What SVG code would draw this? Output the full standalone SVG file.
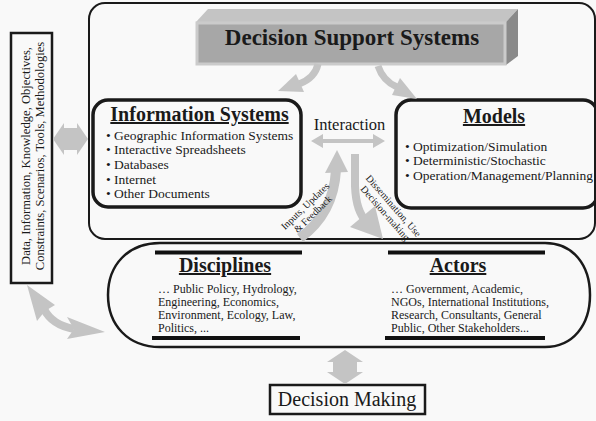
<svg xmlns="http://www.w3.org/2000/svg" width="596" height="421" viewBox="0 0 596 421">
<style>
.bg{fill:#f9f9f9}
.t{font-family:"Liberation Serif","Times New Roman",serif;fill:#1a1a1a}
.hd{font-weight:bold;text-decoration:underline}
.box{fill:none;stroke:#1a1a1a}
.ar{fill:#c4c4c4}
.sh{fill:none;stroke:#c4c4c4}
.bar{stroke:#111;stroke-width:4}
</style>
<rect class="bg" x="0" y="0" width="596" height="421"/>

<g id="outer">
<rect class="box" x="89" y="3" width="506" height="236" rx="16" stroke-width="2"/>
</g>

<g id="dss">
<polygon points="196,22 208,9 518,9 506,22" fill="#c4c4c4"/>
<polygon points="506,22 518,9 518,56 506,65" fill="#8a8a8a"/>
<rect x="197" y="23" width="308" height="41" fill="#a7a7a7" stroke="#cbcbcb" stroke-width="3"/>
<text class="t" x="352" y="45" font-size="23" font-weight="bold" text-anchor="middle">Decision Support Systems</text>
</g>

<g id="infosys">
<rect class="box" x="93" y="100" width="208" height="107" rx="15" stroke-width="3.5"/>
<text class="t hd" x="199.5" y="121" font-size="20" text-anchor="middle">Information Systems</text>
<text class="t" font-size="13.5">
<tspan x="106" y="139.5">• Geographic Information Systems</tspan>
<tspan x="106" y="154.2">• Interactive Spreadsheets</tspan>
<tspan x="106" y="168.9">• Databases</tspan>
<tspan x="106" y="183.6">• Internet</tspan>
<tspan x="106" y="198.3">• Other Documents</tspan>
</text>
</g>

<g id="models">
<rect class="box" x="396" y="100" width="202" height="108" rx="15" stroke-width="3.5"/>
<text class="t hd" x="494" y="123" font-size="20" text-anchor="middle">Models</text>
<text class="t" font-size="13.5">
<tspan x="405" y="150.5">• Optimization/Simulation</tspan>
<tspan x="405" y="165.2">• Deterministic/Stochastic</tspan>
<tspan x="405" y="180">• Operation/Management/Planning</tspan>
</text>
</g>

<g id="interaction">
<text class="t" x="349.5" y="130" font-size="16.5" text-anchor="middle">Interaction</text>
</g>

<g id="left-box">
<rect class="box" x="11" y="33" width="41" height="250" stroke-width="2.5"/>
<text class="t" transform="translate(29.5,156) rotate(-90)" font-size="12.6" text-anchor="middle">Data, Information, Knowledge, Objectives,</text>
<text class="t" transform="translate(43.5,156) rotate(-90)" font-size="12.6" text-anchor="middle">Constraints, Scenarios, Tools, Methodologies</text>
</g>

<g id="lower">
<path class="box" stroke-width="2.5" d="M160,243 L545,243 C573,243 590,265 590,295 C590,325 573,347 545,347 L160,347 C128,347 108,325 108,295 C108,265 128,243 160,243 Z"/>
</g>

<g id="disciplines">
<line class="bar" x1="155" y1="252.5" x2="302" y2="252.5"/>
<line class="bar" x1="152" y1="338" x2="300" y2="338"/>
<text class="t hd" x="225" y="272" font-size="20" text-anchor="middle">Disciplines</text>
<text class="t" font-size="12">
<tspan x="158" y="292.5">… Public Policy, Hydrology,</tspan>
<tspan x="158" y="305.5">Engineering, Economics,</tspan>
<tspan x="158" y="318.5">Environment, Ecology, Law,</tspan>
<tspan x="158" y="331.5">Politics, ...</tspan>
</text>
</g>

<g id="actors">
<line class="bar" x1="388" y1="252.5" x2="545" y2="252.5"/>
<line class="bar" x1="385" y1="338" x2="545" y2="338"/>
<text class="t hd" x="458" y="272" font-size="20" text-anchor="middle">Actors</text>
<text class="t" font-size="12">
<tspan x="391" y="292.5">… Government, Academic,</tspan>
<tspan x="391" y="305.5">NGOs, International Institutions,</tspan>
<tspan x="391" y="318.5">Research, Consultants, General</tspan>
<tspan x="391" y="331.5">Public, Other Stakeholders...</tspan>
</text>
</g>

<g id="decision-making">
<rect class="box" x="270" y="385" width="155" height="29" stroke-width="2.5"/>
<text class="t" x="347" y="406" font-size="20" text-anchor="middle">Decision Making</text>
</g>

<g id="connectors">
<path class="sh" stroke-width="7" d="M318,64 Q315,78 299,84"/>
<polygon class="ar" points="278,91 296,74 304,92"/>
<path class="sh" stroke-width="7" d="M378,66 Q383,81 397,87"/>
<polygon class="ar" points="417,99 392,95 400,78"/>
<polygon class="ar" points="311,141 323,134 323,139 373,139 373,134 385,141 373,148 373,143 323,143 323,148"/>
<path class="sh" stroke-width="10" d="M300,238 C318,225 334,205 336,170"/>
<polygon class="ar" points="337,150 325,173 348,172"/>
<path class="sh" stroke-width="8" d="M355,154 L355,186 Q356,212 367,222"/>
<polygon class="ar" points="383,239 350,227 375,206"/>
<polygon class="ar" points="53,139 64,123 64,128 77,128 77,123 88,139 77,155 77,150 64,150 64,155"/>
<polygon class="ar" points="345,350 363,362 357,362 357,372 363,372 345,384 327,372 333,372 333,362 327,362"/>
<path class="sh" stroke-width="8" d="M44,309 Q52,325 74,329"/>
<polygon class="ar" points="27,285 55,305 45,311 37,321"/>
<polygon class="ar" points="105,332 67,317 74,329 67,339"/>
</g>

<g id="labels">
<text class="t" transform="translate(307.5,208.5) rotate(-44)" font-size="10" text-anchor="middle">Inputs, Updates<tspan x="0" dy="11">&amp; Feedback</tspan></text>
<text class="t" transform="translate(391,208) rotate(49)" font-size="10" text-anchor="middle">Dissemination, Use<tspan x="0" dy="11">Decision-making</tspan></text>
</g>
</svg>
